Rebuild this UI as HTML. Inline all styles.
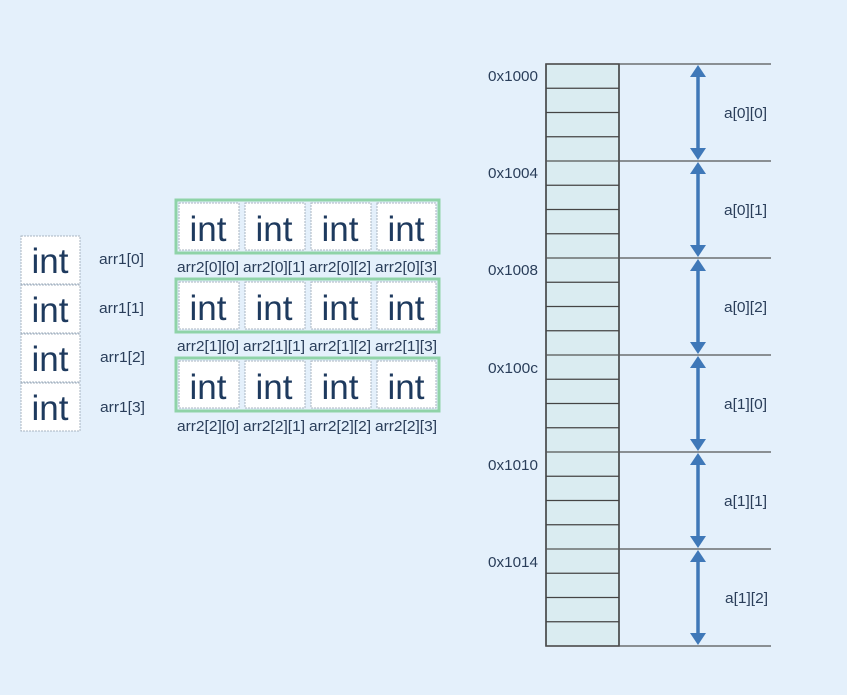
<!DOCTYPE html>
<html><head><style>
html,body{margin:0;padding:0;background:#e4f0fb;}
svg{display:block;font-family:"Liberation Sans",sans-serif;}
</style></head><body>
<svg width="847" height="695" viewBox="0 0 847 695" xmlns="http://www.w3.org/2000/svg">
<rect width="847" height="695" fill="#e4f0fb"/>
<g fill="#fff" stroke="#a9b4c0" stroke-width="1" stroke-dasharray="2,1">
<rect x="21" y="236" width="59" height="48"/>
<rect x="21" y="285" width="59" height="48"/>
<rect x="21" y="334" width="59" height="48"/>
<rect x="21" y="383" width="59" height="48"/>
</g>
<g font-size="35" fill="#1e3a5e" text-anchor="middle">
<text x="50" y="273">int</text><text x="50" y="322">int</text><text x="50" y="371">int</text><text x="50" y="420">int</text>
</g>
<g font-size="15" fill="#2a3e5a" lengthAdjust="spacingAndGlyphs">
<text x="99" y="264" textLength="45" lengthAdjust="spacingAndGlyphs">arr1[0]</text><text x="99" y="313" textLength="45" lengthAdjust="spacingAndGlyphs">arr1[1]</text><text x="100" y="362" textLength="45" lengthAdjust="spacingAndGlyphs">arr1[2]</text><text x="100" y="412" textLength="45" lengthAdjust="spacingAndGlyphs">arr1[3]</text>
</g>
<g fill="#e4f0fb" stroke="#8fd3a8" stroke-width="3">
<rect x="176" y="200" width="263" height="53"/>
<rect x="176" y="279" width="263" height="53"/>
<rect x="176" y="358" width="263" height="53"/>
</g>
<g fill="#fff" stroke="#a9b4c0" stroke-width="1" stroke-dasharray="2,1">
<rect x="179" y="203" width="60" height="47"/><rect x="245" y="203" width="60" height="47"/><rect x="311" y="203" width="60" height="47"/><rect x="377" y="203" width="59" height="47"/>
<rect x="179" y="282" width="60" height="47"/><rect x="245" y="282" width="60" height="47"/><rect x="311" y="282" width="60" height="47"/><rect x="377" y="282" width="59" height="47"/>
<rect x="179" y="361" width="60" height="47"/><rect x="245" y="361" width="60" height="47"/><rect x="311" y="361" width="60" height="47"/><rect x="377" y="361" width="59" height="47"/>
</g>
<g font-size="35" fill="#1e3a5e" text-anchor="middle">
<text x="208" y="241">int</text><text x="274" y="241">int</text><text x="340" y="241">int</text><text x="406" y="241">int</text>
<text x="208" y="320">int</text><text x="274" y="320">int</text><text x="340" y="320">int</text><text x="406" y="320">int</text>
<text x="208" y="399">int</text><text x="274" y="399">int</text><text x="340" y="399">int</text><text x="406" y="399">int</text>
</g>
<g font-size="15" fill="#2a3e5a">
<text x="177" y="272" textLength="62" lengthAdjust="spacingAndGlyphs">arr2[0][0]</text><text x="243" y="272" textLength="62" lengthAdjust="spacingAndGlyphs">arr2[0][1]</text><text x="309" y="272" textLength="62" lengthAdjust="spacingAndGlyphs">arr2[0][2]</text><text x="375" y="272" textLength="62" lengthAdjust="spacingAndGlyphs">arr2[0][3]</text>
<text x="177" y="351" textLength="62" lengthAdjust="spacingAndGlyphs">arr2[1][0]</text><text x="243" y="351" textLength="62" lengthAdjust="spacingAndGlyphs">arr2[1][1]</text><text x="309" y="351" textLength="62" lengthAdjust="spacingAndGlyphs">arr2[1][2]</text><text x="375" y="351" textLength="62" lengthAdjust="spacingAndGlyphs">arr2[1][3]</text>
<text x="177" y="431" textLength="62" lengthAdjust="spacingAndGlyphs">arr2[2][0]</text><text x="243" y="431" textLength="62" lengthAdjust="spacingAndGlyphs">arr2[2][1]</text><text x="309" y="431" textLength="62" lengthAdjust="spacingAndGlyphs">arr2[2][2]</text><text x="375" y="431" textLength="62" lengthAdjust="spacingAndGlyphs">arr2[2][3]</text>
</g>
<rect x="546" y="64" width="73" height="582" fill="#daecf1" stroke="#333" stroke-width="1.5"/>
<g stroke="#444" stroke-width="1.2">
<line x1="546" x2="619" y1="88.25" y2="88.25"/><line x1="546" x2="619" y1="112.5" y2="112.5"/><line x1="546" x2="619" y1="136.75" y2="136.75"/>
<line x1="546" x2="619" y1="185.25" y2="185.25"/><line x1="546" x2="619" y1="209.5" y2="209.5"/><line x1="546" x2="619" y1="233.75" y2="233.75"/>
<line x1="546" x2="619" y1="282.25" y2="282.25"/><line x1="546" x2="619" y1="306.5" y2="306.5"/><line x1="546" x2="619" y1="330.75" y2="330.75"/>
<line x1="546" x2="619" y1="379.25" y2="379.25"/><line x1="546" x2="619" y1="403.5" y2="403.5"/><line x1="546" x2="619" y1="427.75" y2="427.75"/>
<line x1="546" x2="619" y1="476.25" y2="476.25"/><line x1="546" x2="619" y1="500.5" y2="500.5"/><line x1="546" x2="619" y1="524.75" y2="524.75"/>
<line x1="546" x2="619" y1="573.25" y2="573.25"/><line x1="546" x2="619" y1="597.5" y2="597.5"/><line x1="546" x2="619" y1="621.75" y2="621.75"/>
</g>
<g stroke="#555" stroke-width="1.2">
<line x1="546" x2="771" y1="64" y2="64"/><line x1="546" x2="771" y1="161" y2="161"/><line x1="546" x2="771" y1="258" y2="258"/>
<line x1="546" x2="771" y1="355" y2="355"/><line x1="546" x2="771" y1="452" y2="452"/><line x1="546" x2="771" y1="549" y2="549"/><line x1="546" x2="771" y1="646" y2="646"/>
</g>
<g stroke="#3f78b8" stroke-width="3.5">
<line x1="698" x2="698" y1="72" y2="153"/><line x1="698" x2="698" y1="169" y2="250"/><line x1="698" x2="698" y1="266" y2="347"/>
<line x1="698" x2="698" y1="363" y2="444"/><line x1="698" x2="698" y1="460" y2="541"/><line x1="698" x2="698" y1="557" y2="638"/>
</g>
<g fill="#3f78b8">
<path d="M698 65 L690 77 L706 77Z"/><path d="M698 160 L690 148 L706 148Z"/>
<path d="M698 162 L690 174 L706 174Z"/><path d="M698 257 L690 245 L706 245Z"/>
<path d="M698 259 L690 271 L706 271Z"/><path d="M698 354 L690 342 L706 342Z"/>
<path d="M698 356 L690 368 L706 368Z"/><path d="M698 451 L690 439 L706 439Z"/>
<path d="M698 453 L690 465 L706 465Z"/><path d="M698 548 L690 536 L706 536Z"/>
<path d="M698 550 L690 562 L706 562Z"/><path d="M698 645 L690 633 L706 633Z"/>
</g>
<g font-size="15" fill="#2a3e5a">
<text x="488" y="81" textLength="50" lengthAdjust="spacingAndGlyphs">0x1000</text><text x="488" y="178" textLength="50" lengthAdjust="spacingAndGlyphs">0x1004</text><text x="488" y="275" textLength="50" lengthAdjust="spacingAndGlyphs">0x1008</text>
<text x="488" y="373" textLength="50" lengthAdjust="spacingAndGlyphs">0x100c</text><text x="488" y="470" textLength="50" lengthAdjust="spacingAndGlyphs">0x1010</text><text x="488" y="567" textLength="50" lengthAdjust="spacingAndGlyphs">0x1014</text>
</g>
<g font-size="15" fill="#2a3e5a">
<text x="724" y="118" textLength="43" lengthAdjust="spacingAndGlyphs">a[0][0]</text><text x="724" y="215" textLength="43" lengthAdjust="spacingAndGlyphs">a[0][1]</text><text x="724" y="312" textLength="43" lengthAdjust="spacingAndGlyphs">a[0][2]</text>
<text x="724" y="409" textLength="43" lengthAdjust="spacingAndGlyphs">a[1][0]</text><text x="724" y="506" textLength="43" lengthAdjust="spacingAndGlyphs">a[1][1]</text><text x="725" y="603" textLength="43" lengthAdjust="spacingAndGlyphs">a[1][2]</text>
</g>
</svg>
</body></html>
